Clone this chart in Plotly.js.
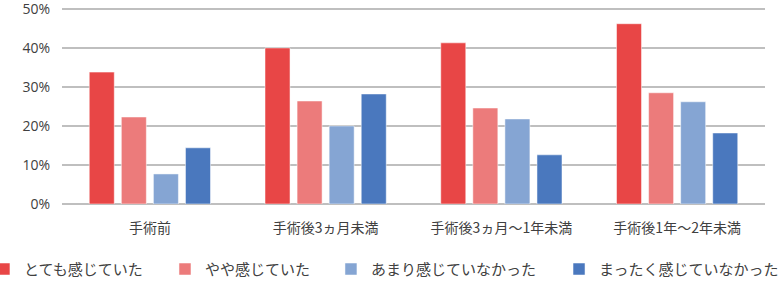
<!DOCTYPE html>
<html><head><meta charset="utf-8">
<script src="https://cdn.plot.ly/plotly-3.0.1.min.js"></script>
<style>html,body{margin:0;padding:0;background:#fff}</style>
</head><body>
<div id="chart" style="width:780px;height:281px"></div>
<script>
const categories = ["手術前", "手術後3ヵ月未満", "手術後3ヵ月～1年未満", "手術後1年～2年未満"];
const seriesNames = ["とても感じていた", "やや感じていた", "あまり感じていなかった", "まったく感じていなかった"];
const s1 = [33.8, 40.0, 41.3, 46.2];
const s2 = [22.3, 26.4, 24.6, 28.5];
const s3 = [7.7, 20.0, 21.8, 26.2];
const s4 = [14.4, 28.2, 12.6, 18.2];
const colors = ["#E84646", "#EC7B7B", "#85A5D3", "#4A78BE"];
const yTickVals = [0, 10, 20, 30, 40, 50];
const yTickText = ["0%", "10%", "20%", "30%", "40%", "50%"];

const font = "'Noto Sans CJK JP', 'Noto Sans', sans-serif";
const legendIds = ["legend", "legend2", "legend3", "legend4"];
const legendX = [-0.111, 0.1465, 0.3826, 0.707];
const data = [s1, s2, s3, s4].map((v, i) => ({
  type: "bar", name: seriesNames[i], x: categories, y: v, legend: legendIds[i],
  marker: {color: colors[i], line: {color: "rgba(255,255,255,0.5)", width: 1}},
  hoverinfo: "none"
}));
const layout = {
  width: 780, height: 281,
  margin: {l: 62, r: 15, t: 5, b: 77, autoexpand: false},
  paper_bgcolor: "#fff", plot_bgcolor: "#fff",
  barmode: "group", bargap: 0.27, bargroupgap: 0.22,
  font: {family: font, color: "#404040", size: 14},
  xaxis: {showgrid: false, zeroline: false, showline: false,
          ticks: "outside", ticklen: 11, tickcolor: "rgba(0,0,0,0)",
          tickfont: {size: 14, color: "#404040"}, automargin: false},
  yaxis: {range: [0, 51], tickvals: yTickVals, ticktext: yTickText,
          showgrid: true, gridcolor: "#BFBFBF", gridwidth: 1.5,
          zeroline: true, zerolinecolor: "#BFBFBF", zerolinewidth: 1.5,
          showline: false, ticks: "outside", ticklen: 8, tickcolor: "rgba(0,0,0,0)",
          automargin: false, ticklabeloverflow: "allow",
          tickfont: {family: "'Open Sans', 'Noto Sans', sans-serif", size: 14, color: "#404040"}},
  showlegend: true,
};
legendIds.forEach((id, i) => {
  layout[id] = {orientation: "h", x: legendX[i], xanchor: "left", y: -0.328, yanchor: "middle",
                font: {size: 15, color: "#404040"}, itemwidth: 30, bgcolor: "rgba(0,0,0,0)"};
});
Plotly.newPlot("chart", data, layout, {displayModeBar: false, staticPlot: true});
</script>
</body></html>
